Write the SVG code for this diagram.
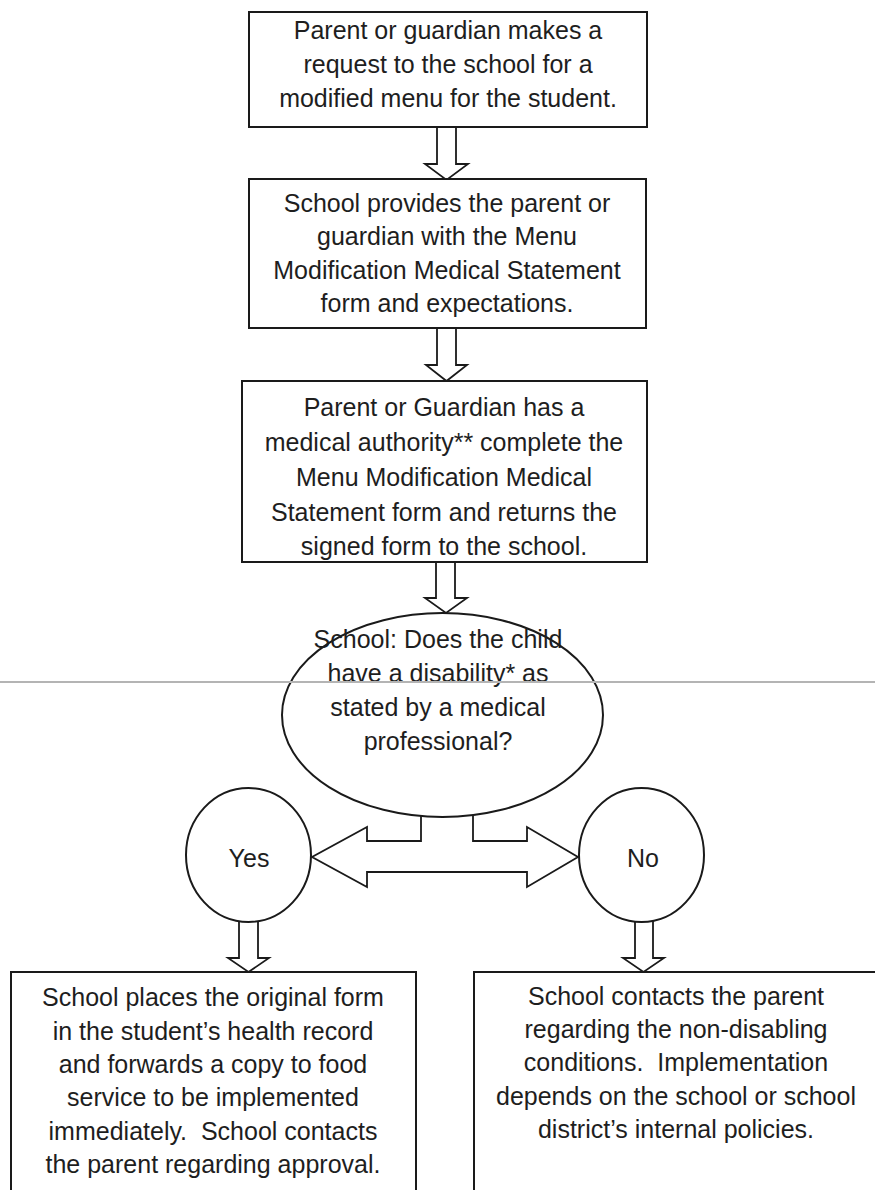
<svg xmlns="http://www.w3.org/2000/svg" width="875" height="1190" viewBox="0 0 875 1190">
<style>
.box{fill:#fff;stroke:#1a1a1a;stroke-width:2}
.arr{fill:#fff;stroke:#1a1a1a;stroke-width:1.8;stroke-linejoin:miter}
.t{font-family:"Liberation Sans",Arial,sans-serif;font-size:25px;fill:#1e1e1e;text-anchor:middle;white-space:pre}
.scan{stroke:#b4b4b4;stroke-width:2}
</style>
<rect width="875" height="1190" fill="#fff"/>
<g id="connectors">
<polygon class="arr" points="437,127 456,127 456,164 468,164 446.5,180 425,164 437,164"/>
<polygon class="arr" points="437,328 456,328 456,365 467,365 446.5,381 426,365 437,365"/>
<polygon class="arr" points="436,562 455,562 455,598 467,598 446,613 425,598 436,598"/>
<polygon class="arr" points="421,810 421,841 367,841 367,827 312,857 367,887 367,872 527,872 527,887 578,857 527,827 527,841 473,841 473,810"/>
<polygon class="arr" points="239,920 258,920 258,958 269,958 248.5,972 228,958 239,958"/>
<polygon class="arr" points="635,920 653,920 653,958 664,958 643.5,972 623,958 635,958"/>
</g>
<g id="n1">
<rect class="box" x="249" y="12" width="398" height="115"/>
<text class="t" x="448" y="39">Parent or guardian makes a</text>
<text class="t" x="448" y="73">request to the school for a</text>
<text class="t" x="448" y="107">modified menu for the student.</text>
</g>
<g id="n2">
<rect class="box" x="249" y="179" width="397" height="149"/>
<text class="t" x="447" y="212">School provides the parent or</text>
<text class="t" x="447" y="245">guardian with the Menu</text>
<text class="t" x="447" y="279">Modification Medical Statement</text>
<text class="t" x="447" y="312">form and expectations.</text>
</g>
<g id="n3">
<rect class="box" x="242" y="381" width="405" height="181"/>
<text class="t" x="444" y="416">Parent or Guardian has a</text>
<text class="t" x="444" y="451">medical authority** complete the</text>
<text class="t" x="444" y="486">Menu Modification Medical</text>
<text class="t" x="444" y="521">Statement form and returns the</text>
<text class="t" x="444" y="555">signed form to the school.</text>
</g>
<g id="n4">
<ellipse class="box" cx="442.5" cy="715" rx="160.5" ry="102"/>
<text class="t" x="438" y="648">School: Does the child</text>
<text class="t" x="438" y="682">have a disability* as</text>
<text class="t" x="438" y="716">stated by a medical</text>
<text class="t" x="438" y="750">professional?</text>
</g>
<g id="n5">
<ellipse class="box" cx="248.5" cy="855" rx="62.5" ry="67"/>
<text class="t" x="249" y="867">Yes</text>
</g>
<g id="n6">
<ellipse class="box" cx="641.5" cy="855" rx="62.5" ry="67"/>
<text class="t" x="643" y="867">No</text>
</g>
<g id="n7">
<rect class="box" x="11" y="972" width="405" height="230"/>
<text class="t" x="213" y="1006">School places the original form</text>
<text class="t" x="213" y="1040">in the student’s health record</text>
<text class="t" x="213" y="1073">and forwards a copy to food</text>
<text class="t" x="213" y="1106">service to be implemented</text>
<text class="t" x="213" y="1140" xml:space="preserve">immediately.  School contacts</text>
<text class="t" x="213" y="1173">the parent regarding approval.</text>
</g>
<g id="n8">
<rect class="box" x="474" y="972" width="410" height="230"/>
<text class="t" x="676" y="1005">School contacts the parent</text>
<text class="t" x="676" y="1038">regarding the non-disabling</text>
<text class="t" x="676" y="1071" xml:space="preserve">conditions.  Implementation</text>
<text class="t" x="676" y="1105">depends on the school or school</text>
<text class="t" x="676" y="1138">district’s internal policies.</text>
</g>
<line class="scan" x1="0" y1="682" x2="875" y2="682"/>
</svg>
